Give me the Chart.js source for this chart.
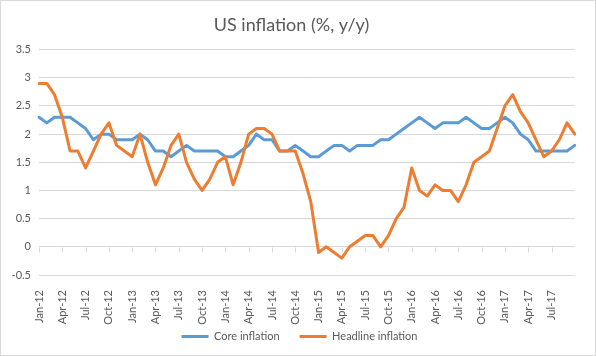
<!DOCTYPE html>
<html><head><meta charset="utf-8">
<script src="https://cdn.jsdelivr.net/npm/chart.js@4/dist/chart.umd.min.js"></script>
<style>
html,body{margin:0;padding:0;background:#fff}
#wrap{position:relative;width:596px;height:356px;box-sizing:border-box;border:1px solid #d9d9d9;background:#fff}
</style></head><body>
<div id="wrap"><canvas id="c"></canvas></div>
<script>
const categories = [
 'Jan-12','Feb-12','Mar-12','Apr-12','May-12','Jun-12','Jul-12','Aug-12','Sep-12','Oct-12','Nov-12','Dec-12',
 'Jan-13','Feb-13','Mar-13','Apr-13','May-13','Jun-13','Jul-13','Aug-13','Sep-13','Oct-13','Nov-13','Dec-13',
 'Jan-14','Feb-14','Mar-14','Apr-14','May-14','Jun-14','Jul-14','Aug-14','Sep-14','Oct-14','Nov-14','Dec-14',
 'Jan-15','Feb-15','Mar-15','Apr-15','May-15','Jun-15','Jul-15','Aug-15','Sep-15','Oct-15','Nov-15','Dec-15',
 'Jan-16','Feb-16','Mar-16','Apr-16','May-16','Jun-16','Jul-16','Aug-16','Sep-16','Oct-16','Nov-16','Dec-16',
 'Jan-17','Feb-17','Mar-17','Apr-17','May-17','Jun-17','Jul-17','Aug-17','Sep-17','Oct-17'
];
const coreInflation = [
 2.3,2.2,2.3,2.3,2.3,2.2,2.1,1.9,2.0,2.0,1.9,1.9,
 1.9,2.0,1.9,1.7,1.7,1.6,1.7,1.8,1.7,1.7,1.7,1.7,
 1.6,1.6,1.7,1.8,2.0,1.9,1.9,1.7,1.7,1.8,1.7,1.6,
 1.6,1.7,1.8,1.8,1.7,1.8,1.8,1.8,1.9,1.9,2.0,2.1,
 2.2,2.3,2.2,2.1,2.2,2.2,2.2,2.3,2.2,2.1,2.1,2.2,
 2.3,2.2,2.0,1.9,1.7,1.7,1.7,1.7,1.7,1.8
];
const headlineInflation = [
 2.9,2.9,2.7,2.3,1.7,1.7,1.4,1.7,2.0,2.2,1.8,1.7,
 1.6,2.0,1.5,1.1,1.4,1.8,2.0,1.5,1.2,1.0,1.2,1.5,
 1.6,1.1,1.5,2.0,2.1,2.1,2.0,1.7,1.7,1.7,1.3,0.8,
 -0.1,0.0,-0.1,-0.2,0.0,0.1,0.2,0.2,0.0,0.2,0.5,0.7,
 1.4,1.0,0.9,1.1,1.0,1.0,0.8,1.1,1.5,1.6,1.7,2.1,
 2.5,2.7,2.4,2.2,1.9,1.6,1.7,1.9,2.2,2.0
];
const seriesNames = ['Core inflation','Headline inflation'];
const yMin = -0.5, yMax = 3.5, yStep = 0.5;
const labelEvery = 3;

const FONT = 'Lato, "Open Sans", sans-serif';
const TXT = '#595959';

const zeroTicks = {
  id: 'zeroTicks',
  beforeDatasetsDraw(chart) {
    const ctx = chart.ctx, x = chart.scales.x, y = chart.scales.y;
    const y0 = Math.round(y.getPixelForValue(0)) + 0.5;
    ctx.save();
    ctx.strokeStyle = '#d9d9d9';
    ctx.lineWidth = 1;
    for (let i = 0; i < categories.length - 1; i += labelEvery) {
      const px = Math.round(x.getPixelForValue(i)) + 0.5;
      ctx.beginPath(); ctx.moveTo(px, y0); ctx.lineTo(px, y0 + 5); ctx.stroke();
    }
    ctx.restore();
  }
};
const legendShift = {
  id: 'legendShift',
  afterLayout(chart) {
    const l = chart.legend;
    if (l) { l.left += 8; l.right += 8; }
  }
};

new Chart(document.getElementById('c'), {
  type: 'line',
  data: {
    labels: categories,
    datasets: [
      {label: seriesNames[0], data: coreInflation, borderColor: '#5B9BD5', backgroundColor: '#5B9BD5', order: 1},
      {label: seriesNames[1], data: headlineInflation, borderColor: '#ED7D31', backgroundColor: '#ED7D31', order: 0}
    ]
  },
  options: {
    responsive: true,
    maintainAspectRatio: false,
    animation: false,
    elements: {
      line: {borderWidth: 3, tension: 0, borderJoinStyle: 'round', borderCapStyle: 'round'},
      point: {radius: 0, hoverRadius: 0}
    },
    layout: {padding: {left: 0, right: 13, top: 0, bottom: 3}},
    plugins: {
      tooltip: {enabled: false},
      title: {
        display: true, text: 'US inflation (%, y/y)', color: TXT,
        font: {family: FONT, size: 18, weight: 'normal'},
        padding: {top: 13, bottom: 14}
      },
      legend: {
        position: 'bottom',
        labels: {
          color: TXT, font: {family: FONT, size: 11}, boxWidth: 27, boxHeight: 3, padding: 20,
          sort: (a, b) => a.datasetIndex - b.datasetIndex,
          generateLabels(chart) {
            return Chart.defaults.plugins.legend.labels.generateLabels(chart).map(l => {
              l.lineWidth = 0; l.fillStyle = l.strokeStyle; return l;
            });
          }
        }
      }
    },
    scales: {
      x: {
        offset: false,
        grid: {display: false},
        border: {display: false},
        ticks: {
          autoSkip: false, minRotation: 90, maxRotation: 90, color: TXT,
          font: {family: FONT, size: 11}, padding: 7,
          callback: (v, i) => (i % labelEvery === 0 && i < categories.length - 1 ? categories[i] : '')
        },
        afterFit(s) { s.height = 36; s._computeLabelArea = () => undefined; }
      },
      y: {
        min: yMin, max: yMax,
        ticks: {stepSize: yStep, color: TXT, font: {family: FONT, size: 11}, padding: 8,
          callback: v => String(Math.round(v * 10) / 10)},
        grid: {color: '#d9d9d9', drawTicks: false, lineWidth: 1},
        border: {display: false},
        afterFit(s) { s.width = 38; }
      }
    }
  },
  plugins: [zeroTicks, legendShift]
});
</script>
</body></html>
